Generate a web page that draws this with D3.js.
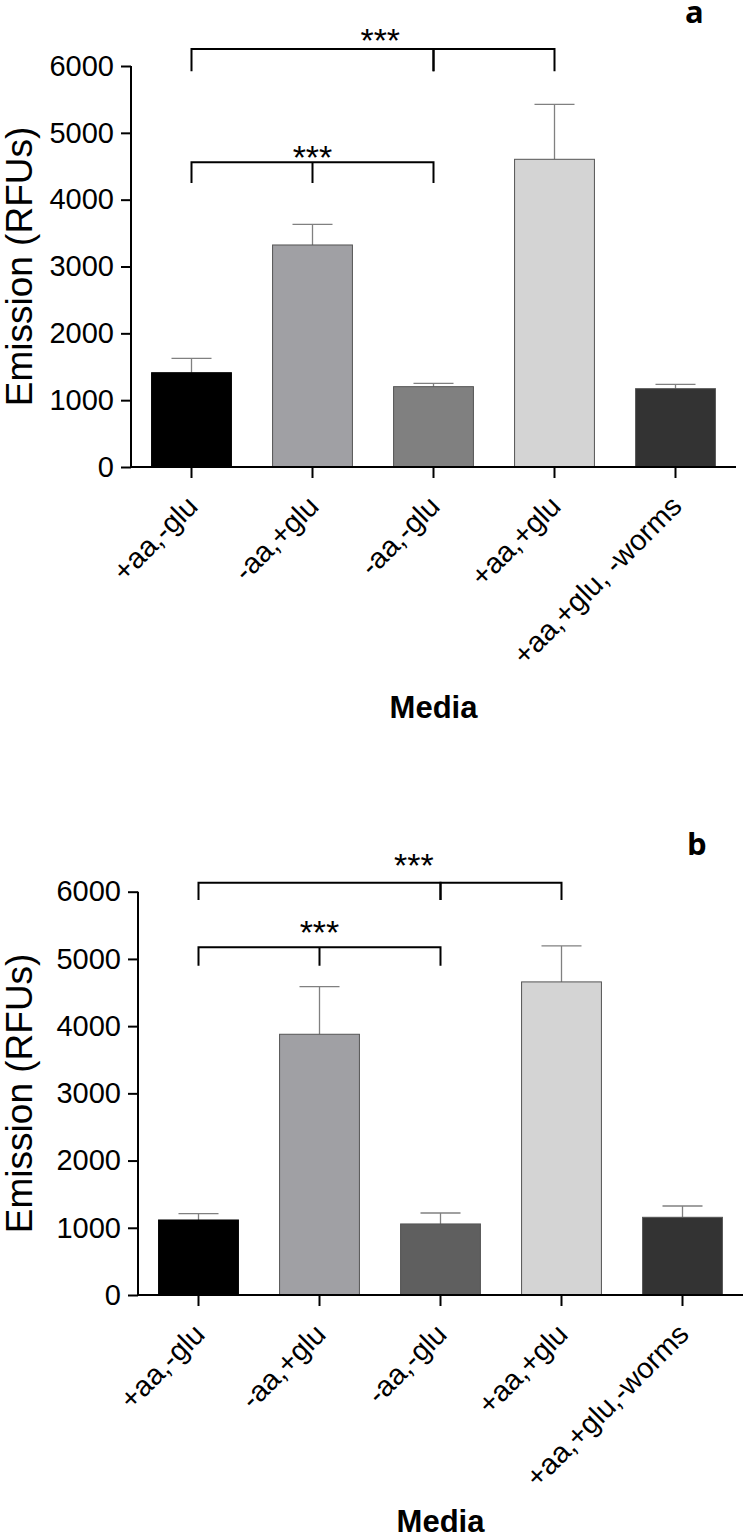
<!DOCTYPE html>
<html>
<head>
<meta charset="utf-8">
<script src="https://cdn.jsdelivr.net/npm/d3@7"></script>
<style>
  body { margin: 0; background: #fff; }
  svg text { font-family: "Liberation Sans", Arial, sans-serif; }
</style>
</head>
<body>
<div id="graf"></div>
<script>
// Datos
const categoriesA = ["+aa,-glu", "-aa,+glu", "-aa,-glu", "+aa,+glu", "+aa,+glu, -worms"]
const categoriesB = ["+aa,-glu", "-aa,+glu", "-aa,-glu", "+aa,+glu", "+aa,+glu,-worms"]
const yTicks = [0, 1000, 2000, 3000, 4000, 5000, 6000]

const meansA = [1411, 3322, 1202, 4604, 1172]
const semA = [215, 309, 50, 823, 65]
const meansB = [1116, 3879, 1057, 4658, 1156]
const semB = [94, 709, 163, 535, 168]

const fillsA = ["#000000", "#a0a0a4", "#808080", "#d4d4d4", "#333333"]
const fillsB = ["#000000", "#a0a0a4", "#5f5f5f", "#d4d4d4", "#333333"]

// Brackets de significancia: patas (índices de categoría), altura de la barra y fin de las patas
const bracketsA = [
  { legs: [0, 2], top: 6255, bottom: 5923 },
  { legs: [2, 3], top: 6255, bottom: 5923 },
  { legs: [0, 1, 2], top: 4560, bottom: 4250 }
]
const bracketsB = [
  { legs: [0, 2], top: 6135, bottom: 5878 },
  { legs: [2, 3], top: 6135, bottom: 5878 },
  { legs: [0, 1, 2], top: 5174, bottom: 4900 }
]
// Asteriscos: posición en unidades de categoría y valor del centro
const starsA = [{ pos: 1.56, value: 6509, text: "***" }, { pos: 1, value: 4758, text: "***" }]
const starsB = [{ pos: 1.78, value: 6510, text: "***" }, { pos: 1, value: 5521, text: "***" }]

const svg = d3.select("#graf")
  .append("svg")
  .attr("width", 752)
  .attr("height", 1540)

const drawPanel = (cfg) => {
  const ancho = 605
  const alto = cfg.zeroY - cfg.topY

  const x = d3.scaleBand()
    .domain(cfg.categories)
    .range([0, ancho])
    .paddingInner(0.34)
    .paddingOuter(0.17)

  const y = d3.scaleLinear()
    .domain([0, 6000])
    .range([alto, 0])

  const pos = d3.scaleLinear()
    .domain([0, cfg.categories.length - 1])
    .range([x(cfg.categories[0]) + x.bandwidth() / 2,
            x(cfg.categories[cfg.categories.length - 1]) + x.bandwidth() / 2])

  const chart = svg.append("g")
    .attr("transform", `translate(${cfg.left}, ${cfg.topY})`)

  const data = cfg.categories.map((c, i) => ({
    cat: c, mean: cfg.means[i], sem: cfg.sem[i], fill: cfg.fills[i]
  }))

  // Barras de error
  chart.selectAll("line.err")
    .data(data)
    .join("line")
    .attr("class", "err")
    .attr("x1", (d) => x(d.cat) + x.bandwidth() / 2)
    .attr("x2", (d) => x(d.cat) + x.bandwidth() / 2)
    .attr("y1", (d) => y(d.mean))
    .attr("y2", (d) => y(d.mean + d.sem))
    .attr("stroke", "#808080")
    .attr("stroke-width", 1.3)

  chart.selectAll("line.cap")
    .data(data)
    .join("line")
    .attr("class", "cap")
    .attr("x1", (d) => x(d.cat) + x.bandwidth() / 2 - 20)
    .attr("x2", (d) => x(d.cat) + x.bandwidth() / 2 + 20)
    .attr("y1", (d) => y(d.mean + d.sem))
    .attr("y2", (d) => y(d.mean + d.sem))
    .attr("stroke", "#808080")
    .attr("stroke-width", 1.3)

  // Barras
  chart.selectAll("rect.bar")
    .data(data)
    .join("rect")
    .attr("class", "bar")
    .attr("x", (d) => x(d.cat))
    .attr("y", (d) => y(d.mean))
    .attr("width", x.bandwidth())
    .attr("height", (d) => y(0) - y(d.mean))
    .attr("fill", (d) => d.fill)
    .attr("stroke", (d) => d.fill == "#000000" ? "#000" : "#555")
    .attr("stroke-width", 1)

  // Ejes
  const yAxis = d3.axisLeft(y)
    .tickValues(yTicks)
    .tickSize(10)
    .tickSizeOuter(0)
    .tickPadding(7)
    .tickFormat((d) => d)

  const xAxis = d3.axisBottom(x)
    .tickSize(11)
    .tickSizeOuter(0)

  const yAxisGroup = chart.append("g").call(yAxis)
  const xAxisGroup = chart.append("g")
    .attr("transform", `translate(0, ${alto})`)
    .call(xAxis)

  ;[yAxisGroup, xAxisGroup].forEach((g) => {
    g.selectAll("path, line").attr("stroke", "#000").attr("stroke-width", 2)
    g.selectAll("text").attr("fill", "#000").style("font-size", "29px")
      .style("font-family", "'Liberation Sans', Arial, sans-serif")
  })
  yAxisGroup.select(".domain").attr("d", `M0,${alto}V0`)
  xAxisGroup.select(".domain").attr("d", `M-1,0H${ancho}`)

  xAxisGroup.selectAll(".tick text")
    .attr("x", 0)
    .attr("y", 0)
    .attr("dy", 0)
    .attr("text-anchor", "end")
    .attr("transform", "translate(8, 41) rotate(-45)")

  // Título eje Y
  chart.append("text")
    .attr("transform", `translate(${32 - cfg.left}, ${alto / 2}) rotate(-90)`)
    .attr("text-anchor", "middle")
    .style("font-size", "37px")
    .attr("fill", "#000")
    .text("Emission (RFUs)")

  // Título eje X
  chart.append("text")
    .attr("x", ancho / 2)
    .attr("y", cfg.mediaY - cfg.topY)
    .attr("text-anchor", "middle")
    .style("font-size", "31px")
    .style("font-weight", "bold")
    .attr("fill", "#000")
    .text("Media")

  // Brackets
  cfg.brackets.forEach((b) => {
    const xs = b.legs.map((i) => pos(i))
    let d = `M${xs[0]},${y(b.bottom)}V${y(b.top)}H${xs[xs.length - 1]}V${y(b.bottom)}`
    xs.slice(1, -1).forEach((xm) => { d += `M${xm},${y(b.top)}V${y(b.bottom)}` })
    chart.append("path")
      .attr("d", d)
      .attr("fill", "none")
      .attr("stroke", "#000")
      .attr("stroke-width", 2)
  })

  chart.selectAll("text.star")
    .data(cfg.stars)
    .join("text")
    .attr("class", "star")
    .attr("x", (d) => pos(d.pos))
    .attr("y", (d) => y(d.value) + 34 * 0.58)
    .attr("text-anchor", "middle")
    .style("font-size", "34px")
    .attr("fill", "#000")
    .text((d) => d.text)

  // Letra del panel
  svg.append("text")
    .attr("x", cfg.letterX)
    .attr("y", cfg.letterY)
    .style("font-family", "'Open Sans', sans-serif")
    .style("font-weight", "bold")
    .style("font-size", "31px")
    .attr("fill", "#000")
    .text(cfg.letter)
}

drawPanel({
  categories: categoriesA, means: meansA, sem: semA, fills: fillsA,
  brackets: bracketsA, stars: starsA,
  left: 131, topY: 66, zeroY: 467, mediaY: 718,
  letter: "a", letterX: 685, letterY: 23
})

drawPanel({
  categories: categoriesB, means: meansB, sem: semB, fills: fillsB,
  brackets: bracketsB, stars: starsB,
  left: 138, topY: 891.7, zeroY: 1295, mediaY: 1532,
  letter: "b", letterX: 687, letterY: 855
})
</script>
</body>
</html>
